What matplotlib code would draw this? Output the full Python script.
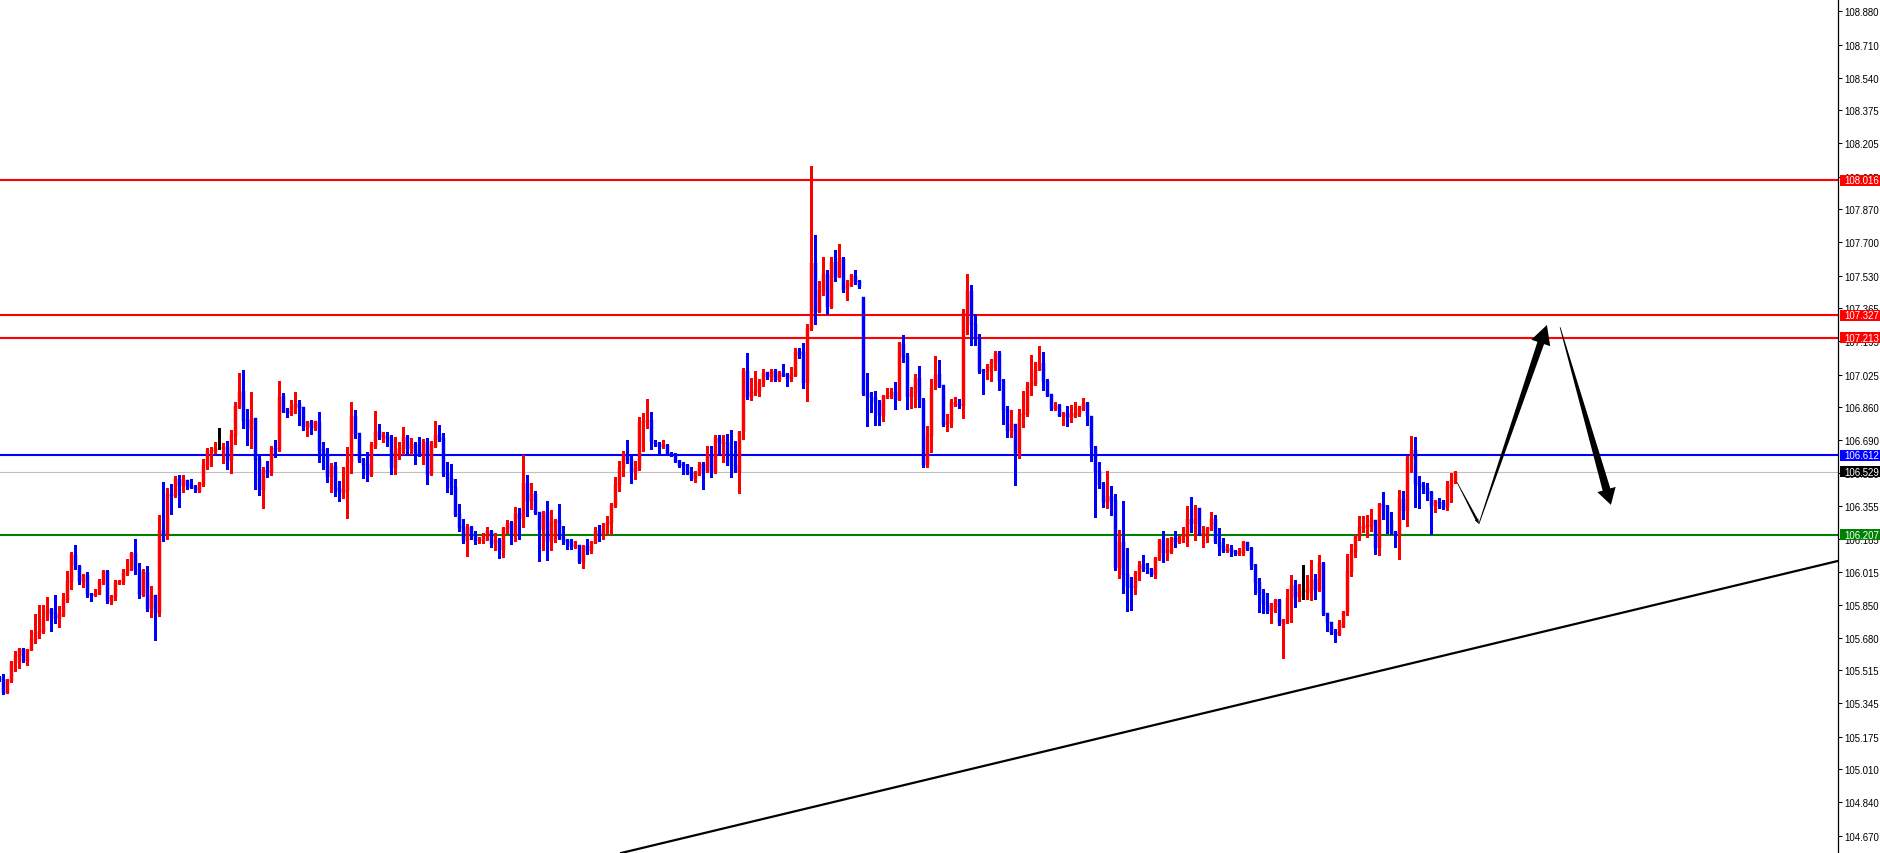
import numpy as np
import matplotlib
matplotlib.use("Agg")
import matplotlib.pyplot as plt
from matplotlib.patches import Polygon, Rectangle
from matplotlib.transforms import IdentityTransform, blended_transform_factory

plt.rcParams['font.family'] = ['Liberation Sans', 'DejaVu Sans']

# OHLC candles, one per bar
opens = [
    105.479, 105.470, 105.399, 105.460, 105.552, 105.589, 105.623, 105.564, 105.620, 105.671,
    105.705, 105.709, 105.781, 105.828, 105.807, 105.777, 105.794, 105.875, 105.967, 106.103,
    106.046, 105.967, 106.001, 105.904, 105.896, 105.904, 105.960, 106.022, 105.865, 105.889,
    105.957, 105.967, 106.008, 106.028, 106.114, 106.028, 105.901, 106.015, 105.828, 105.899,
    105.807, 106.233, 106.211, 106.415, 106.403, 106.492, 106.455, 106.487, 106.461, 106.451,
    106.432, 106.461, 106.560, 106.631, 106.636, 106.648, 106.645, 106.655, 106.590, 106.713,
    106.858, 106.941, 106.793, 106.743, 106.803, 106.594, 106.437, 106.538, 106.522, 106.650,
    106.641, 106.915, 106.840, 106.824, 106.859, 106.875, 106.859, 106.757, 106.783, 106.747,
    106.783, 106.645, 106.614, 106.502, 106.558, 106.446, 106.422, 106.430, 106.580, 106.813,
    106.727, 106.589, 106.568, 106.512, 106.660, 106.737, 106.696, 106.711, 106.701, 106.548,
    106.625, 106.645, 106.706, 106.645, 106.670, 106.630, 106.619, 106.681, 106.516, 106.655,
    106.721, 106.701, 106.522, 106.497, 106.451, 106.313, 106.251, 106.175, 106.246, 106.205,
    106.175, 106.175, 106.200, 106.226, 106.165, 106.180, 106.129, 106.236, 106.267, 106.200,
    106.318, 106.287, 106.471, 106.379, 106.415, 106.323, 106.236, 106.323, 106.175, 106.267,
    106.282, 106.195, 106.180, 106.175, 106.144, 106.154, 106.068, 106.149, 106.124, 106.165,
    106.231, 106.211, 106.256, 106.267, 106.354, 106.461, 106.546, 106.614, 106.594, 106.529,
    106.543, 106.778, 106.786, 106.793, 106.679, 106.670, 106.653, 106.665, 106.625, 106.619,
    106.585, 106.568, 106.563, 106.529, 106.492, 106.517, 106.568, 106.531, 106.614, 106.526,
    106.701, 106.670, 106.682, 106.619, 106.563, 106.529, 106.730, 107.045, 106.909, 106.932,
    106.943, 106.985, 107.037, 107.011, 107.045, 106.997, 107.033, 107.028, 107.002, 107.019,
    107.145, 107.139, 106.982, 107.258, 107.595, 107.346, 107.453, 107.539, 107.369, 107.600,
    107.523, 107.620, 107.462, 107.484, 107.528, 107.503, 107.421, 106.931, 106.910, 106.907,
    106.883, 106.815, 106.909, 106.909, 106.937, 106.897, 107.181, 107.121, 106.912, 106.931,
    107.009, 106.897, 106.563, 106.713, 106.955, 107.028, 106.972, 106.771, 106.778, 106.870,
    106.875, 106.863, 107.334, 107.452, 107.283, 107.212, 107.045, 107.037, 107.057, 107.088,
    107.135, 106.997, 106.849, 106.738, 106.773, 106.625, 106.818, 106.824, 106.965, 106.977,
    107.050, 107.084, 106.992, 106.924, 106.849, 106.870, 106.815, 106.829, 106.808, 106.815,
    106.825, 106.849, 106.880, 106.815, 106.653, 106.534, 106.466, 106.369, 106.405, 106.384,
    106.037, 106.170, 106.006, 105.945, 105.935, 106.006, 106.058, 106.037, 106.032, 106.001,
    106.083, 106.180, 106.114, 106.119, 106.190, 106.170, 106.195, 106.195, 106.287, 106.262,
    106.343, 106.211, 106.211, 106.236, 106.287, 106.170, 106.149, 106.124, 106.139, 106.124,
    106.109, 106.114, 106.170, 106.139, 106.052, 105.966, 105.915, 105.858, 105.818, 105.838,
    105.874, 105.751, 105.766, 105.879, 105.950, 105.889, 105.915, 105.910, 105.920, 105.981,
    105.925, 106.063, 105.807, 105.761, 105.710, 105.695, 105.736, 105.813, 106.017, 106.119,
    106.195, 106.241, 106.246, 106.251, 106.282, 106.139, 106.364, 106.354, 106.282, 106.221,
    106.200, 106.390, 106.328, 106.599, 106.640, 106.471, 106.461, 106.446, 106.425, 106.354,
    106.374, 106.374, 106.349, 106.446, 106.482,
]
highs = [
    105.485, 105.496, 105.470, 105.564, 105.613, 105.626, 105.627, 105.623, 105.719, 105.802,
    105.848, 105.848, 105.889, 105.832, 105.899, 105.845, 105.908, 106.022, 106.117, 106.154,
    106.052, 106.004, 106.015, 105.910, 105.930, 105.981, 106.028, 106.028, 105.899, 105.974,
    105.977, 106.032, 106.083, 106.120, 106.185, 106.063, 106.032, 106.049, 105.947, 105.899,
    106.308, 106.475, 106.444, 106.466, 106.509, 106.512, 106.512, 106.488, 106.492, 106.461,
    106.478, 106.594, 106.652, 106.654, 106.681, 106.752, 106.676, 106.686, 106.742, 106.886,
    107.033, 107.048, 106.849, 106.936, 106.803, 106.608, 106.553, 106.584, 106.659, 106.692,
    106.992, 106.931, 106.854, 106.894, 106.937, 106.894, 106.859, 106.785, 106.793, 106.789,
    106.834, 106.681, 106.650, 106.574, 106.579, 106.482, 106.553, 106.655, 106.885, 106.844,
    106.727, 106.599, 106.630, 106.681, 106.839, 106.773, 106.732, 106.732, 106.716, 106.706,
    106.681, 106.757, 106.716, 106.701, 106.681, 106.706, 106.696, 106.701, 106.686, 106.788,
    106.767, 106.727, 106.579, 106.568, 106.492, 106.364, 106.287, 106.262, 106.251, 106.226,
    106.195, 106.216, 106.246, 106.231, 106.216, 106.190, 106.246, 106.282, 106.277, 106.349,
    106.344, 106.614, 106.512, 106.471, 106.430, 106.323, 106.328, 106.379, 106.333, 106.287,
    106.364, 106.251, 106.185, 106.185, 106.175, 106.154, 106.154, 106.185, 106.175, 106.246,
    106.256, 106.267, 106.304, 106.369, 106.500, 106.585, 106.636, 106.691, 106.619, 106.585,
    106.810, 106.827, 106.900, 106.832, 106.691, 106.679, 106.691, 106.670, 106.631, 106.625,
    106.590, 106.580, 106.568, 106.551, 106.534, 106.577, 106.580, 106.662, 106.662, 106.716,
    106.716, 106.716, 106.721, 106.742, 106.687, 106.738, 107.057, 107.135, 107.006, 107.045,
    107.002, 107.053, 107.040, 107.053, 107.053, 107.045, 107.079, 107.033, 107.062, 107.159,
    107.159, 107.186, 107.283, 108.092, 107.738, 107.504, 107.625, 107.561, 107.625, 107.661,
    107.692, 107.625, 107.508, 107.539, 107.559, 107.509, 107.421, 107.033, 106.934, 106.941,
    106.897, 106.921, 106.958, 106.958, 106.988, 107.193, 107.227, 107.135, 106.960, 107.028,
    107.070, 106.904, 106.761, 107.002, 107.121, 107.101, 106.972, 106.824, 106.900, 106.909,
    106.900, 107.360, 107.539, 107.482, 107.334, 107.232, 107.053, 107.079, 107.105, 107.147,
    107.147, 107.002, 106.866, 106.846, 106.773, 106.849, 106.943, 106.985, 107.125, 107.088,
    107.169, 107.142, 107.002, 106.926, 106.883, 106.875, 106.832, 106.866, 106.870, 106.886,
    106.866, 106.904, 106.883, 106.815, 106.662, 106.577, 106.475, 106.532, 106.456, 106.415,
    106.231, 106.379, 106.139, 105.991, 106.022, 106.073, 106.103, 106.063, 106.037, 106.093,
    106.185, 106.226, 106.190, 106.195, 106.226, 106.200, 106.246, 106.354, 106.400, 106.359,
    106.343, 106.251, 106.246, 106.323, 106.308, 106.241, 106.190, 106.160, 106.154, 106.129,
    106.139, 106.175, 106.170, 106.144, 106.058, 105.986, 105.930, 105.910, 105.858, 105.879,
    105.879, 105.777, 105.930, 106.001, 105.976, 105.955, 106.052, 106.001, 106.078, 106.006,
    106.103, 106.068, 105.807, 105.761, 105.726, 105.772, 105.818, 106.109, 106.160, 106.205,
    106.302, 106.302, 106.308, 106.338, 106.282, 106.369, 106.425, 106.359, 106.323, 106.226,
    106.437, 106.430, 106.611, 106.711, 106.706, 106.507, 106.476, 106.471, 106.430, 106.384,
    106.395, 106.384, 106.482, 106.522, 106.532,
]
lows = [
    105.460, 105.394, 105.397, 105.453, 105.512, 105.528, 105.555, 105.543, 105.620, 105.654,
    105.681, 105.705, 105.773, 105.717, 105.756, 105.733, 105.790, 105.865, 105.930, 106.032,
    105.955, 105.940, 105.889, 105.870, 105.896, 105.903, 105.957, 105.858, 105.855, 105.875,
    105.954, 105.955, 106.001, 106.025, 106.006, 105.882, 105.896, 105.819, 105.784, 105.671,
    105.790, 106.176, 106.185, 106.313, 106.398, 106.350, 106.424, 106.441, 106.444, 106.427,
    106.427, 106.458, 106.543, 106.560, 106.625, 106.645, 106.574, 106.543, 106.522, 106.670,
    106.853, 106.752, 106.665, 106.648, 106.441, 106.410, 106.345, 106.502, 106.512, 106.605,
    106.635, 106.832, 106.808, 106.818, 106.829, 106.767, 106.742, 106.713, 106.721, 106.742,
    106.580, 106.543, 106.478, 106.427, 106.406, 106.381, 106.396, 106.294, 106.524, 106.701,
    106.577, 106.497, 106.483, 106.509, 106.652, 106.696, 106.682, 106.660, 106.517, 106.517,
    106.594, 106.619, 106.619, 106.619, 106.568, 106.608, 106.568, 106.466, 106.512, 106.655,
    106.686, 106.509, 106.425, 106.415, 106.302, 106.226, 106.165, 106.098, 106.185, 106.160,
    106.165, 106.165, 106.180, 106.144, 106.129, 106.088, 106.093, 106.216, 106.160, 106.175,
    106.185, 106.246, 106.304, 106.338, 106.313, 106.073, 106.129, 106.078, 106.129, 106.170,
    106.185, 106.160, 106.134, 106.134, 106.139, 106.063, 106.037, 106.109, 106.114, 106.165,
    106.176, 106.185, 106.211, 106.211, 106.347, 106.432, 106.509, 106.572, 106.470, 106.492,
    106.539, 106.636, 106.751, 106.645, 106.662, 106.619, 106.650, 106.614, 106.611, 106.577,
    106.551, 106.517, 106.517, 106.487, 106.475, 106.514, 106.441, 106.526, 106.503, 106.522,
    106.614, 106.577, 106.563, 106.500, 106.526, 106.420, 106.696, 106.900, 106.897, 106.921,
    106.917, 106.968, 107.002, 106.994, 106.994, 106.994, 107.016, 106.968, 106.994, 107.016,
    107.110, 106.956, 106.892, 107.253, 107.283, 107.343, 107.433, 107.334, 107.365, 107.501,
    107.522, 107.448, 107.407, 107.479, 107.487, 107.469, 106.921, 106.764, 106.832, 106.767,
    106.767, 106.789, 106.904, 106.904, 106.849, 106.894, 107.088, 106.849, 106.853, 106.858,
    106.858, 106.551, 106.551, 106.628, 106.951, 106.960, 106.764, 106.738, 106.756, 106.866,
    106.853, 106.802, 107.232, 107.176, 107.176, 107.033, 106.926, 107.002, 106.994, 107.050,
    106.948, 106.773, 106.705, 106.705, 106.461, 106.597, 106.756, 106.815, 106.921, 106.972,
    107.047, 106.948, 106.914, 106.846, 106.846, 106.812, 106.767, 106.764, 106.784, 106.807,
    106.815, 106.846, 106.767, 106.585, 106.299, 106.444, 106.347, 106.343, 106.308, 106.027,
    105.986, 105.910, 105.818, 105.823, 105.904, 105.976, 106.022, 106.012, 105.996, 105.986,
    106.078, 106.068, 106.078, 106.114, 106.144, 106.165, 106.170, 106.149, 106.221, 106.180,
    106.205, 106.144, 106.170, 106.233, 106.165, 106.103, 106.119, 106.119, 106.098, 106.103,
    106.103, 106.103, 106.129, 106.032, 105.904, 105.811, 105.807, 105.807, 105.756, 105.812,
    105.746, 105.577, 105.756, 105.761, 105.838, 105.869, 105.879, 105.879, 105.874, 105.879,
    105.920, 105.797, 105.716, 105.700, 105.659, 105.695, 105.736, 105.797, 105.996, 106.093,
    106.180, 106.221, 106.195, 106.226, 106.109, 106.103, 106.287, 106.216, 106.211, 106.144,
    106.083, 106.287, 106.251, 106.527, 106.349, 106.343, 106.420, 106.384, 106.211, 106.323,
    106.343, 106.338, 106.333, 106.374, 106.471,
]
closes = [
    105.466, 105.399, 105.465, 105.559, 105.593, 105.623, 105.564, 105.618, 105.675, 105.709,
    105.716, 105.777, 105.828, 105.802, 105.777, 105.797, 105.879, 105.971, 106.105, 106.046,
    105.972, 106.001, 105.899, 105.896, 105.910, 105.966, 106.022, 105.869, 105.893, 105.960,
    105.972, 106.012, 106.032, 106.114, 106.025, 105.901, 106.015, 105.828, 105.899, 105.807,
    106.233, 106.211, 106.415, 106.403, 106.492, 106.455, 106.487, 106.455, 106.447, 106.437,
    106.471, 106.563, 106.635, 106.641, 106.652, 106.648, 106.655, 106.585, 106.716, 106.864,
    106.936, 106.789, 106.747, 106.798, 106.590, 106.437, 106.538, 106.527, 106.650, 106.645,
    106.910, 106.835, 106.829, 106.864, 106.875, 106.854, 106.757, 106.783, 106.754, 106.786,
    106.636, 106.614, 106.502, 106.558, 106.437, 106.424, 106.435, 106.584, 106.813, 106.721,
    106.584, 106.563, 106.512, 106.665, 106.732, 106.706, 106.716, 106.696, 106.548, 106.630,
    106.650, 106.706, 106.645, 106.670, 106.625, 106.616, 106.681, 106.512, 106.660, 106.716,
    106.691, 106.517, 106.492, 106.446, 106.308, 106.241, 106.175, 106.246, 106.205, 106.175,
    106.180, 106.200, 106.226, 106.160, 106.180, 106.129, 106.241, 106.267, 106.200, 106.313,
    106.287, 106.471, 106.379, 106.415, 106.318, 106.231, 106.318, 106.170, 106.272, 106.282,
    106.190, 106.175, 106.165, 106.144, 106.154, 106.068, 106.149, 106.124, 106.170, 106.226,
    106.211, 106.262, 106.270, 106.359, 106.466, 106.551, 106.614, 106.590, 106.529, 106.548,
    106.781, 106.789, 106.794, 106.679, 106.670, 106.653, 106.665, 106.619, 106.618, 106.580,
    106.560, 106.560, 106.522, 106.492, 106.522, 106.568, 106.534, 106.614, 106.526, 106.701,
    106.674, 106.682, 106.614, 106.560, 106.529, 106.733, 107.045, 106.909, 106.937, 106.948,
    106.988, 107.033, 107.011, 107.045, 106.997, 107.033, 107.019, 107.002, 107.023, 107.142,
    107.126, 106.982, 107.261, 107.595, 107.346, 107.457, 107.539, 107.372, 107.600, 107.525,
    107.620, 107.457, 107.489, 107.533, 107.499, 107.474, 106.926, 106.909, 106.904, 106.883,
    106.815, 106.914, 106.917, 106.937, 106.897, 107.186, 107.116, 106.912, 106.931, 107.009,
    106.897, 106.563, 106.716, 106.958, 107.023, 106.968, 106.767, 106.784, 106.883, 106.886,
    106.863, 107.339, 107.452, 107.278, 107.212, 107.040, 107.037, 107.062, 107.096, 107.135,
    106.994, 106.846, 106.738, 106.773, 106.625, 106.824, 106.829, 106.965, 106.982, 107.050,
    107.084, 106.989, 106.917, 106.849, 106.866, 106.815, 106.824, 106.805, 106.829, 106.829,
    106.856, 106.880, 106.812, 106.653, 106.526, 106.461, 106.373, 106.405, 106.379, 106.037,
    106.170, 106.001, 105.942, 105.935, 106.012, 106.052, 106.032, 106.032, 106.001, 106.088,
    106.180, 106.114, 106.129, 106.190, 106.170, 106.195, 106.200, 106.287, 106.262, 106.343,
    106.211, 106.216, 106.241, 106.287, 106.170, 106.144, 106.124, 106.134, 106.119, 106.109,
    106.124, 106.170, 106.134, 106.047, 105.961, 105.910, 105.853, 105.818, 105.843, 105.874,
    105.756, 105.772, 105.884, 105.950, 105.889, 105.915, 105.915, 105.930, 105.976, 105.925,
    106.063, 105.802, 105.756, 105.705, 105.695, 105.751, 105.813, 106.022, 106.124, 106.200,
    106.246, 106.251, 106.256, 106.282, 106.139, 106.364, 106.349, 106.282, 106.216, 106.200,
    106.395, 106.328, 106.599, 106.640, 106.466, 106.456, 106.441, 106.415, 106.354, 106.379,
    106.369, 106.343, 106.456, 106.487, 106.529,
]

# horizontal levels and their price tags on the axis
level_prices = [108.016, 107.327, 107.213, 106.612, 106.207]
level_colors = ['#ff0000', '#ff0000', '#ff0000', '#0000ff', '#008000']
bid_price = 106.529

# price-axis tick labels
tick_values = [108.880, 108.710, 108.540, 108.375, 108.205, 108.035, 107.870, 107.700,
               107.530, 107.365, 107.195, 107.025, 106.860, 106.690, 106.520, 106.355,
               106.185, 106.015, 105.850, 105.680, 105.515, 105.345, 105.175, 105.010,
               104.840, 104.670]

# trend line anchors (bar index, price)
trend_x = [156.7, 459.7]
trend_y = [104.587, 106.073]

# drawn arrows: start/end (bar index, price)
arrow_x = [[364.4, 369.9], [369.9, 386.9], [390.2, 402.9]]
arrow_y = [[106.476, 106.262], [106.262, 107.278], [107.266, 106.359]]

W, H = 1881, 854
AX_W = 1838  # plot area width in pixels, price scale to the right

fig = plt.figure(figsize=(W / 100, H / 100), dpi=100)
ax = fig.add_axes([0, 0, AX_W / W, 1])
ax.set_xlim(0.175, 0.175 + AX_W / 4)
ax.set_ylim(104.581, 108.943)

o = np.array(opens)
hi = np.array(highs)
lo = np.array(lows)
c = np.array(closes)
idx = np.arange(len(c))
colors = np.where(c > o, '#ff0000', np.where(c < o, '#0000ff', '#000000'))

ax.vlines(idx, lo, hi, colors=colors, linewidth=0.8, antialiased=False, zorder=3)
body_h = np.maximum(np.abs(c - o), 0.004)
ax.bar(idx, body_h, bottom=np.minimum(o, c), width=0.8, color=colors,
       edgecolor=colors, linewidth=0.3, zorder=4)

# level lines
for p, col in zip(level_prices, level_colors):
    ax.axhline(p, color=col, linewidth=1.5, zorder=2)
ax.axhline(bid_price, color='#c0c0c0', linewidth=0.8, zorder=1)

# trend line
ax.axline((trend_x[0], trend_y[0]), (trend_x[1], trend_y[1]), color='black',
          linewidth=1.6, zorder=2)

# axis styling
for side in ['left', 'top', 'bottom']:
    ax.spines[side].set_visible(False)
ax.spines['right'].set_color('black')
ax.spines['right'].set_linewidth(0.9)
ax.set_xticks([])
ax.yaxis.tick_right()
ax.set_yticks(tick_values)
ax.set_yticklabels([f"{v:.3f}" for v in tick_values])
ax.tick_params(axis='y', direction='out', length=3, width=0.75, pad=1.8,
               labelsize=6.9, colors='black')

# price tags on the scale
tag_tr = blended_transform_factory(ax.transAxes, ax.transData)
px = (ax.get_ylim()[1] - ax.get_ylim()[0]) / H
tags = list(zip(level_prices, level_colors)) + [(bid_price, '#000000')]
for p, col in tags:
    ax.add_patch(Rectangle((1840 / AX_W, p - 5.5 * px), 41 / AX_W, 11 * px,
                           transform=tag_tr, facecolor=col, edgecolor='none',
                           clip_on=False, zorder=6))
    ax.text(1844 / AX_W, p, f"{p:.3f}", transform=tag_tr, color='white',
            fontsize=6.9, va='center', ha='left', clip_on=False, zorder=7)


def tapered_arrow(p0, p1, w0, w1, head_w, head_len):
    (x0, y0), (x1, y1) = ax.transData.transform([p0, p1])
    dx, dy = x1 - x0, y1 - y0
    L = np.hypot(dx, dy)
    ux, uy = dx / L, dy / L
    nx, ny = -uy, ux
    bx, by = x1 - ux * head_len, y1 - uy * head_len
    pts = [(x0 + nx * w0 / 2, y0 + ny * w0 / 2),
           (bx + nx * w1 / 2, by + ny * w1 / 2),
           (bx + nx * head_w / 2, by + ny * head_w / 2),
           (x1, y1),
           (bx - nx * head_w / 2, by - ny * head_w / 2),
           (bx - nx * w1 / 2, by - ny * w1 / 2),
           (x0 - nx * w0 / 2, y0 - ny * w0 / 2)]
    ax.add_patch(Polygon(pts, closed=True, transform=IdentityTransform(),
                         facecolor='black', edgecolor='none', zorder=5))


arrow_sizes = [(0.6, 2.5, 4, 5), (0.8, 7, 20, 19), (0.8, 8, 19, 16)]
for xs, ys, sz in zip(arrow_x, arrow_y, arrow_sizes):
    tapered_arrow((xs[0], ys[0]), (xs[1], ys[1]), *sz)

fig.savefig('out.png', dpi=100, facecolor='white')
